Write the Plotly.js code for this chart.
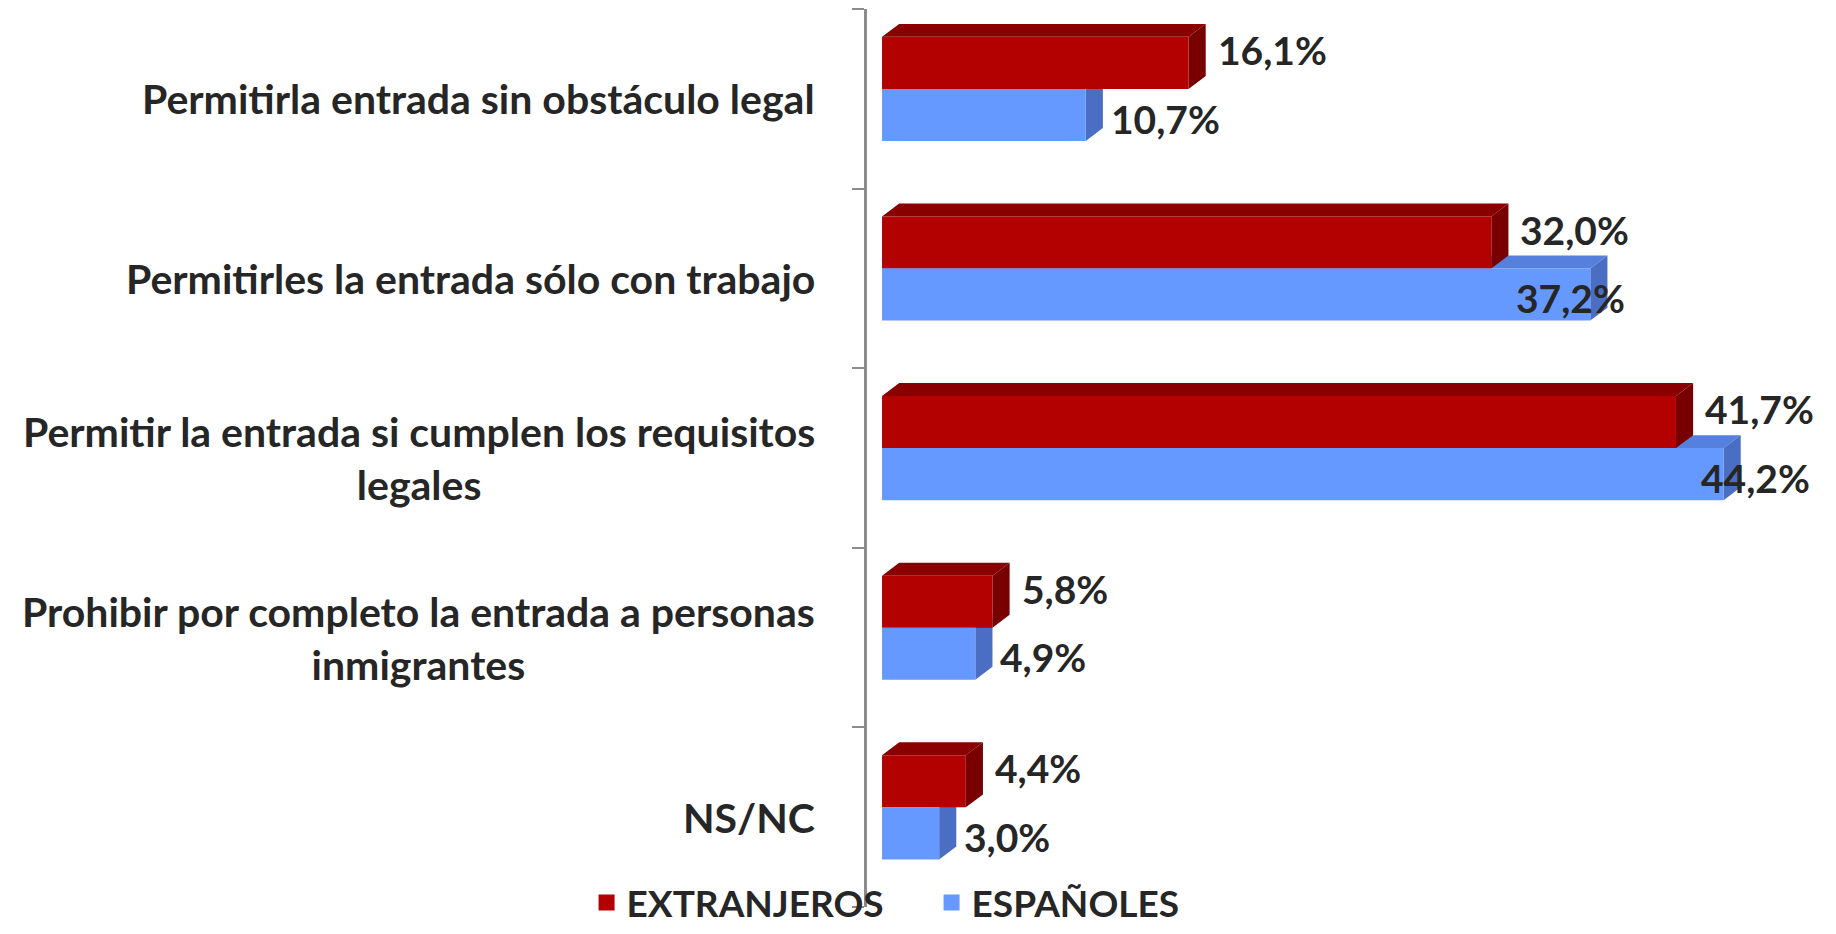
<!DOCTYPE html>
<html>
<head>
<meta charset="utf-8">
<script src="https://cdn.plot.ly/plotly-3.0.1.min.js"></script>
<style>html,body{margin:0;padding:0;background:#fff;overflow:hidden}#chart{width:1836px;height:934px}</style>
</head>
<body>
<div id="chart"></div>
<script>
// ---- data ----
const categories = [
  "Permitirla entrada sin obstáculo legal",
  "Permitirles la entrada sólo con trabajo",
  "Permitir la entrada si cumplen los requisitos<br>legales",
  "Prohibir por completo la entrada a personas<br>inmigrantes",
  "NS/NC"
];
const extranjeros = [16.1, 32.0, 41.7, 5.8, 4.4];
const espanoles = [10.7, 37.2, 44.2, 4.9, 3.0];
const seriesNames = ["EXTRANJEROS", "ESPAÑOLES"];

// ---- styling ----
const FONT = "Lato, 'Open Sans', sans-serif";
const TXT = "#262626";
const redFront = "#B30000", redTop = "#8A0000", redSide = "#780000";
const blueFront = "#6699FF", blueTop = "#5580DD", blueSide = "#4A6EC4";
const dx = 0.9;    // depth along x (data units)
const dy = 0.072;  // depth along y (category units)
const W = 0.29;
const offRed = -0.345, offBlue = -0.055;

const pos = categories.map((_, i) => i);
const fmt = v => v.toFixed(1).replace(".", ",") + "%";

const traces = [
  {type: "bar", orientation: "h", y: pos, x: extranjeros, offset: offRed, width: W,
   marker: {color: redFront, line: {width: 0}}, name: seriesNames[0], showlegend: false, hoverinfo: "x"},
  {type: "bar", orientation: "h", y: pos, x: espanoles, offset: offBlue, width: W,
   marker: {color: blueFront, line: {width: 0}}, name: seriesNames[1], showlegend: false, hoverinfo: "x"},
  {type: "scatter", mode: "markers", x: [null], y: [null], name: seriesNames[0],
   marker: {symbol: "square", size: 16, color: redFront}},
  {type: "scatter", mode: "markers", x: [null], y: [null], name: seriesNames[1],
   marker: {symbol: "square", size: 16, color: blueFront}}
];

// 3D depth faces derived from the data values
const shapes = [];
function addDepth(vals, off, topC, sideC) {
  vals.forEach((v, i) => {
    const T = i + off, B = i + off + W;
    shapes.push({type: "path", xref: "x", yref: "y", layer: "below", line: {width: 0}, fillcolor: topC,
      path: `M0,${T} L${dx},${T - dy} L${v + dx},${T - dy} L${v},${T} Z`});
    shapes.push({type: "path", xref: "x", yref: "y", layer: "below", line: {width: 0}, fillcolor: sideC,
      path: `M${v},${T} L${v + dx},${T - dy} L${v + dx},${B - dy} L${v},${B} Z`});
  });
}
addDepth(espanoles, offBlue, blueTop, blueSide);
addDepth(extranjeros, offRed, redTop, redSide);

const annotations = [];
categories.forEach((c, i) => {
  annotations.push({xref: "paper", yref: "y", x: 0, y: i, xanchor: "right", yanchor: "middle",
    xshift: -50, text: c, showarrow: false, align: "center",
    font: {family: FONT, size: 41, color: TXT, weight: 700}});
});
extranjeros.forEach((v, i) => {
  annotations.push({xref: "x", yref: "y", x: v + dx, y: i + offRed + W / 2 - dy, xanchor: "left", yanchor: "middle",
    xshift: 10, text: fmt(v), showarrow: false, font: {family: FONT, size: 39, color: TXT, weight: 700}});
});
espanoles.forEach((v, i) => {
  // Excel places the lower label next to the shorter of the two bars
  const xl = Math.min(v, extranjeros[i]);
  annotations.push({xref: "x", yref: "y", x: xl + dx, y: i + offBlue + W / 2 + 0.02, xanchor: "left", yanchor: "middle",
    xshift: 6, text: fmt(v), showarrow: false, font: {family: FONT, size: 39, color: TXT, weight: 700}});
});

const layout = {
  width: 1836, height: 934,
  margin: {l: 867, r: 2, t: 9, b: 27, pad: 0, autoexpand: false},
  paper_bgcolor: "#ffffff", plot_bgcolor: "#ffffff",
  barmode: "overlay",
  xaxis: {range: [-0.79, 50], visible: false, showgrid: false, zeroline: false, fixedrange: true},
  yaxis: {range: [4.5, -0.5], tickmode: "array", tickvals: [-0.5, 0.5, 1.5, 2.5, 3.5, 4.5],
    showticklabels: false, ticks: "outside", ticklen: 12, tickwidth: 2, tickcolor: "#8c8c8c",
    showline: true, linecolor: "#8c8c8c", linewidth: 3, showgrid: false, zeroline: false, fixedrange: true},
  showlegend: true,
  legend: {orientation: "h", x: -0.29, xanchor: "left", y: -0.030, yanchor: "bottom",
    font: {family: FONT, size: 37, color: TXT, weight: 700}, entrywidth: 300, bgcolor: "rgba(0,0,0,0)"},
  shapes: shapes,
  annotations: annotations
};

Plotly.newPlot("chart", traces, layout, {displayModeBar: false, staticPlot: true});
</script>
</body>
</html>
